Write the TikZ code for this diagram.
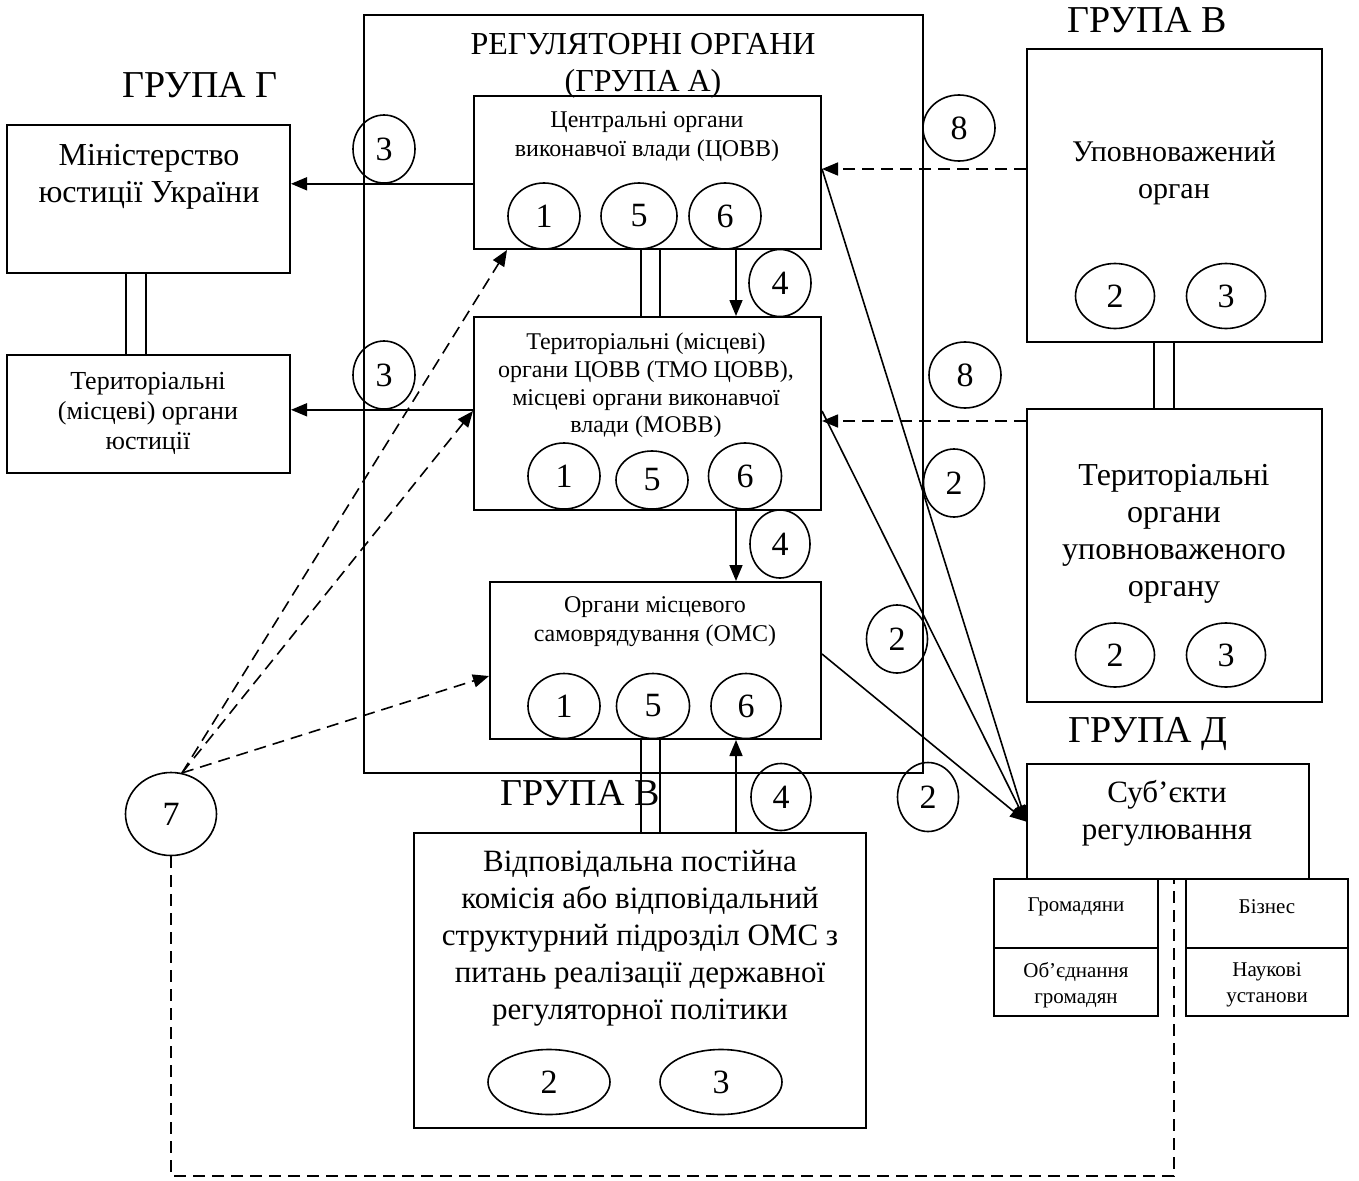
\documentclass[tikz,border=0pt]{standalone}
\usepackage{fontspec}
\setmainfont{Liberation Serif}
\usetikzlibrary{arrows.meta,shapes.geometric}
\newcommand{\myfs}[2]{\fontsize{#1}{#2}\selectfont}
\begin{document}
\begin{tikzpicture}[x=1pt,y=-1pt,
  box/.style={draw,line width=2pt,inner sep=0pt,rectangle},
  num/.style={draw,ellipse,line width=1.6pt,inner sep=0pt,font=\myfs{34}{34}},
  txt/.style={align=center,inner sep=0pt},
  ln/.style={line width=1.6pt},
  arr/.style={ln,-{Triangle[length=16pt,width=13pt]}},
  darr/.style={arr,dash pattern=on 12pt off 7pt},
  dln/.style={ln,dash pattern=on 12pt off 7pt},
  grp/.style={anchor=base,inner sep=0pt,font=\myfs{38}{38}},
]
\useasboundingbox (0,0) rectangle (1359,1180);

% ---------- boxes ----------
\node[box,minimum width=559pt,minimum height=758pt] (A) at (643.5,394) {};
\node[box,minimum width=283pt,minimum height=148pt] (min) at (148.5,199) {};
\node[box,minimum width=283pt,minimum height=118pt] (tmin) at (148.5,414) {};
\node[box,minimum width=347pt,minimum height=153pt] (cov) at (647.5,172.5) {};
\node[box,minimum width=347pt,minimum height=193pt] (tmo) at (647.5,413.5) {};
\node[box,minimum width=331pt,minimum height=157pt] (oms) at (655.5,660.5) {};
\node[box,minimum width=452pt,minimum height=295pt] (vid) at (640,980.5) {};
\node[box,minimum width=295pt,minimum height=293pt] (upo) at (1174.5,195.5) {};
\node[box,minimum width=295pt,minimum height=293pt] (tupo) at (1174.5,555.5) {};
\node[box,minimum width=282pt,minimum height=115pt] (sub) at (1168,821.5) {};
\node[box,minimum width=164pt,minimum height=69pt] (g1) at (1076,913.5) {};
\node[box,minimum width=164pt,minimum height=68pt] (g2) at (1076,982) {};
\node[box,minimum width=162pt,minimum height=69pt] (b1) at (1267,913.5) {};
\node[box,minimum width=162pt,minimum height=68pt] (b2) at (1267,982) {};

% ---------- texts ----------
\node[txt,font=\myfs{32}{37}] (titleT) at (643,65.5) {РЕГУЛЯТОРНІ ОРГАНИ\\(ГРУПА А)};
\node[txt,font=\myfs{24}{29}] (covT) at (647,136.5) {Центральні органи\\виконавчої влади (ЦОВВ)};
\node[txt,font=\myfs{24}{27.7}] (tmoT) at (646,385.5) {Територіальні (місцеві)\\органи ЦОВВ (ТМО ЦОВВ),\\місцеві органи виконавчої\\влади (МОВВ)};
\node[txt,font=\myfs{24}{29}] (omsT) at (655,621.5) {Органи місцевого\\самоврядування (ОМС)};
\node[txt,font=\myfs{32}{37}] (minT) at (149,176.5) {Міністерство\\юстиції України};
\node[txt,font=\myfs{26}{30}] (tminT) at (148,413.5) {Територіальні\\(місцеві) органи\\юстиції};
\node[txt,font=\myfs{30}{37}] (upoT) at (1174,173) {Уповноважений\\орган};
\node[txt,font=\myfs{32}{37}] (tupoT) at (1174,533.5) {Територіальні\\органи\\уповноваженого\\органу};
\node[txt,font=\myfs{31}{37}] (subT) at (1167,813.5) {Суб’єкти\\регулювання};
\node[txt,font=\myfs{31}{37}] (vidT) at (640,938) {Відповідальна постійна\\комісія або відповідальний\\структурний підрозділ ОМС з\\питань реалізації державної\\регуляторної політики};
\node[txt,font=\myfs{21}{26}] (g1T) at (1076,906.5) {Громадяни};
\node[txt,font=\myfs{21}{26}] (g2T) at (1076,985) {Об’єднання\\громадян};
\node[txt,font=\myfs{21}{26}] (b1T) at (1267,906.5) {Бізнес};
\node[txt,font=\myfs{21}{26}] (b2T) at (1267,985) {Наукові\\установи};

\node[grp] (grG) at (200,98) {ГРУПА Г};
\node[grp] (grV1) at (1147,33) {ГРУПА В};
\node[grp] (grD) at (1148,742) {ГРУПА Д};
\node[grp] (grV2) at (580,805) {ГРУПА В};

% ---------- number circles ----------
\node[num,minimum width=62pt,minimum height=68pt] (c3a) at (384,149) {3};
\node[num,minimum width=62pt,minimum height=68pt] (c3b) at (384,375) {3};
\node[num,minimum width=72pt,minimum height=66pt] (cv1) at (544,216) {1};
\node[num,minimum width=76pt,minimum height=66pt] (cv5) at (639,216) {5};
\node[num,minimum width=72pt,minimum height=66pt] (cv6) at (725,216) {6};
\node[num,minimum width=62pt,minimum height=67pt] (c4a) at (780,283) {4};
\node[num,minimum width=72pt,minimum height=66pt] (tm1) at (564,476) {1};
\node[num,minimum width=72pt,minimum height=58pt] (tm5) at (652,480) {5};
\node[num,minimum width=73pt,minimum height=66pt] (tm6) at (745,476) {6};
\node[num,minimum width=60pt,minimum height=68pt] (c4b) at (780,544) {4};
\node[num,minimum width=72pt,minimum height=65pt] (om1) at (564,706) {1};
\node[num,minimum width=73pt,minimum height=65pt] (om5) at (653,706) {5};
\node[num,minimum width=70pt,minimum height=65pt] (om6) at (746,706) {6};
\node[num,minimum width=60pt,minimum height=67pt] (c4c) at (781,797) {4};
\node[num,minimum width=72pt,minimum height=66pt] (c8a) at (959,128) {8};
\node[num,minimum width=72pt,minimum height=66pt] (c8b) at (965,375) {8};
\node[num,minimum width=61pt,minimum height=68pt] (c2a) at (954,483) {2};
\node[num,minimum width=61pt,minimum height=68pt] (c2b) at (897,639) {2};
\node[num,minimum width=61pt,minimum height=69pt] (c2c) at (928,797) {2};
\node[num,minimum width=79pt,minimum height=65pt] (up2) at (1115,296) {2};
\node[num,minimum width=79pt,minimum height=65pt] (up3) at (1226,296) {3};
\node[num,minimum width=79pt,minimum height=64pt] (tu2) at (1115,655) {2};
\node[num,minimum width=79pt,minimum height=64pt] (tu3) at (1226,655) {3};
\node[num,minimum width=122pt,minimum height=65pt] (vd2) at (549,1082) {2};
\node[num,minimum width=122pt,minimum height=65pt] (vd3) at (721,1082) {3};
\node[num,minimum width=91pt,minimum height=83pt] (c7) at (171,814) {7};

% ---------- helper coordinates ----------
\coordinate (xa) at (736,0);
\coordinate (xd1) at (641,0);
\coordinate (xd2) at (660,0);
\coordinate (xu1) at (1154,0);
\coordinate (xu2) at (1174,0);
\coordinate (xj1) at (126,0);
\coordinate (xj2) at (146,0);
\coordinate (xe) at (507,0);
\coordinate (ya) at (0,169);
\coordinate (yb) at (0,421);
\coordinate (yc) at (0,411);
\coordinate (yd) at (0,654);
\coordinate (yf) at (0,676);
\coordinate (yl) at (0,1176);
\coordinate (s7) at (c7.75);

% ---------- connectors ----------
\draw[arr] (c3a.south -| cov.west) -- (c3a.south -| min.east);
\draw[arr] (c3b.south -| tmo.west) -- (c3b.south -| tmin.east);
\draw[ln] (min.south -| xj1) -- (tmin.north -| xj1);
\draw[ln] (min.south -| xj2) -- (tmin.north -| xj2);
\draw[ln] (cov.south -| xd1) -- (tmo.north -| xd1);
\draw[ln] (cov.south -| xd2) -- (tmo.north -| xd2);
\draw[arr] (cov.south -| xa) -- (tmo.north -| xa);
\draw[arr] (tmo.south -| xa) -- (oms.north -| xa);
\draw[ln] (oms.south -| xd1) -- (vid.north -| xd1);
\draw[ln] (oms.south -| xd2) -- (vid.north -| xd2);
\draw[arr] (vid.north -| xa) -- (oms.south -| xa);
\draw[ln] (upo.south -| xu1) -- (tupo.north -| xu1);
\draw[ln] (upo.south -| xu2) -- (tupo.north -| xu2);
\draw[darr] (ya -| upo.west) -- (ya -| cov.east);
\draw[darr] (yb -| tupo.west) -- (yb -| tmo.east);
\draw[arr] (ya -| cov.east) -- (sub.west);
\draw[arr] (yc -| tmo.east) -- (sub.west);
\draw[arr] (yd -| oms.east) -- (sub.west);
\draw[darr] (s7) -- (cov.south -| xe);
\draw[darr] (s7) -- (yc -| tmo.west);
\draw[darr] (s7) -- (yf -| oms.west);
\draw[dln] (c7.south) -- (c7.south |- yl) -- (yl -| xu2) -- (sub.south -| xu2);
\end{tikzpicture}
\end{document}
